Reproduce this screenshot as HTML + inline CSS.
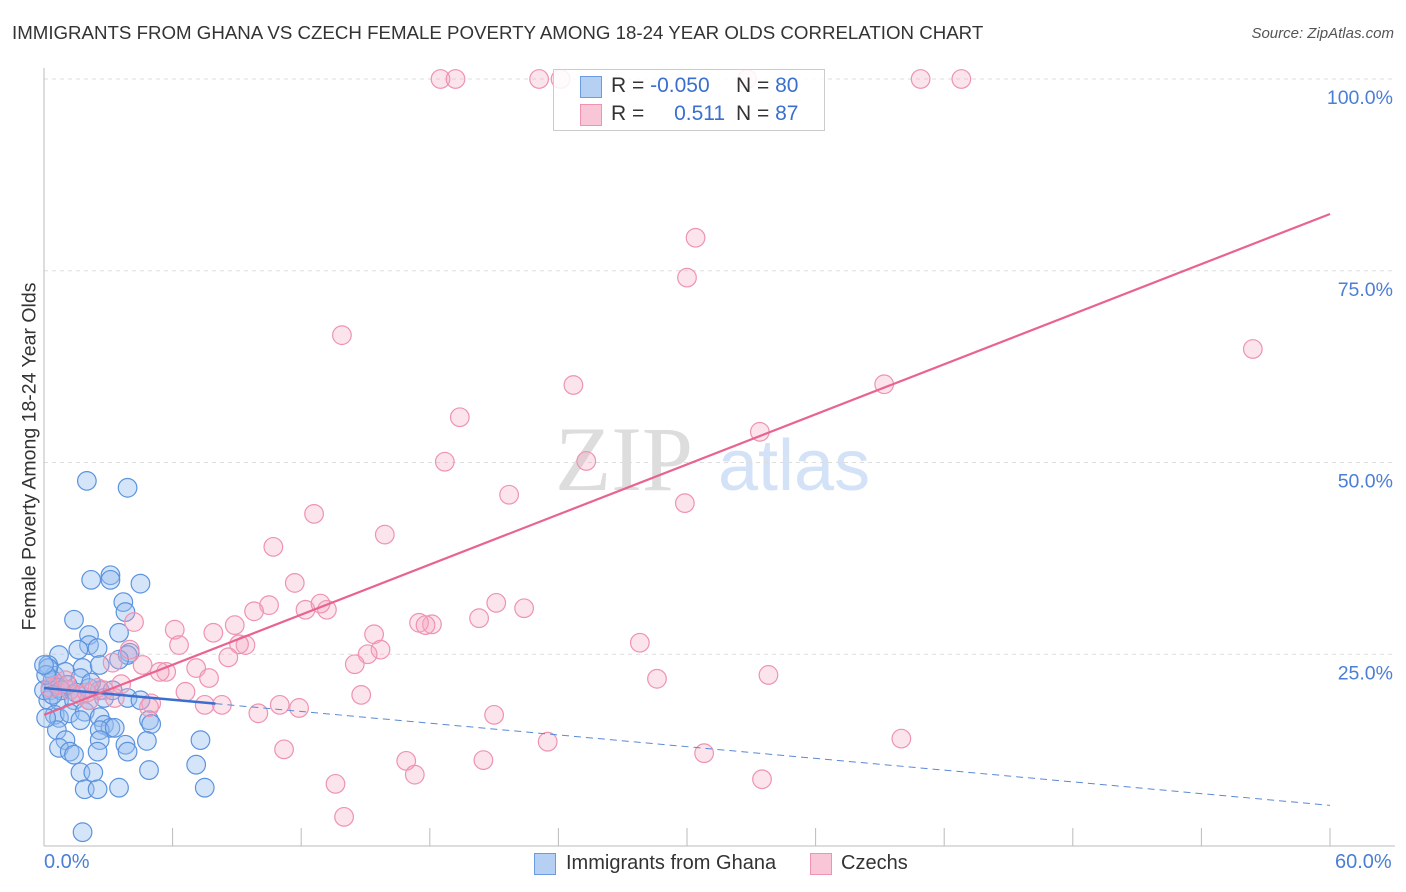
<!DOCTYPE html>
<html><head><meta charset="utf-8"><style>
body{margin:0;background:#fff;font-family:"Liberation Sans",sans-serif;}
#wrap{position:relative;width:1406px;height:892px;overflow:hidden;}
.t{position:absolute;white-space:nowrap;}
</style></head><body>
<div id="wrap">
<div class="t" style="left:12px;top:22px;font-size:18.7px;color:#333;">IMMIGRANTS FROM GHANA VS CZECH FEMALE POVERTY AMONG 18-24 YEAR OLDS CORRELATION CHART</div>
<div class="t" style="right:12px;top:25px;font-size:15px;color:#555;font-style:italic;">Source: ZipAtlas.com</div>
<svg id="svg" width="1406" height="892" style="position:absolute;left:0;top:0"></svg>
</div>
<script>
const blueX=[2.0,3.9,2.2,3.1,3.1,4.5,3.7,3.8,1.4,3.5,2.1,2.1,2.5,0.7,1.6,4.0,0.2,0.5,1.0,1.8,1.7,2.6,2.8,0.3,0.2,1.2,0.7,1.4,2.1,0.5,0.7,1.2,1.9,2.6,2.8,3.1,2.6,4.9,5.0,0.6,1.0,2.6,3.8,4.8,0.7,1.2,1.4,2.5,3.9,1.7,2.3,1.9,2.5,3.5,4.9,7.3,7.1,7.5,1.8,0.2,0.4,0.0,0.1,0.7,2.1,0.8,3.9,3.3,0.1,2.2,3.9,3.2,0.4,1.1,0.0,2.6,4.5,1.7,3.5,1.5];
const blueY=[47.6,46.7,34.7,35.3,34.7,34.2,31.8,30.5,29.5,27.8,27.5,26.2,25.8,24.9,25.6,25.2,23.6,22.2,22.7,23.2,21.9,20.3,19.3,20.3,19.0,20.3,19.0,19.0,20.6,17.1,16.7,17.3,17.5,16.8,15.8,15.4,15.1,16.4,15.9,15.1,13.8,13.8,13.2,13.7,12.8,12.3,11.9,12.3,12.3,9.6,9.6,7.4,7.4,7.6,9.9,13.8,10.6,7.6,1.8,23.2,21.6,20.3,22.3,20.6,19.0,20.3,19.3,15.4,16.7,21.3,24.9,20.3,19.7,21.0,23.6,23.6,19.0,16.4,24.3,20.0];
const pinkX=[18.5,19.2,23.1,24.1,32.8,40.9,42.8,30.4,30.0,13.9,56.4,24.7,39.2,19.4,33.4,18.7,25.3,21.7,29.9,12.6,15.9,10.7,11.7,10.5,12.2,9.8,13.2,12.9,21.1,22.4,20.3,8.9,18.1,6.1,17.5,17.8,15.4,7.9,27.8,9.4,9.1,4.2,6.3,15.7,15.1,8.6,4.0,4.6,14.5,3.2,7.1,5.7,5.4,7.7,3.6,28.6,33.8,2.5,2.8,6.6,14.8,5.0,4.9,7.5,8.3,11.0,11.9,10.0,21.0,23.5,11.2,30.8,40.0,16.9,20.5,17.3,13.6,33.5,14.0,1.2,0.7,1.7,2.1,3.3,0.3,1.0,2.0];
const pinkY=[100,100,100,100,100,100,100,79.3,74.1,66.6,64.8,60.1,60.2,55.9,54.0,50.1,50.2,45.8,44.7,43.3,40.6,39.0,34.3,31.4,30.8,30.6,30.8,31.6,31.7,31.0,29.7,28.8,28.9,28.2,29.1,28.8,27.6,27.8,26.5,26.2,26.3,29.2,26.2,25.6,25.0,24.6,25.6,23.6,23.7,23.9,23.2,22.7,22.7,21.9,21.1,21.8,22.3,20.6,20.3,20.1,19.7,18.6,18.1,18.4,18.4,18.4,18.0,17.3,17.1,13.6,12.6,12.1,14.0,11.1,11.2,9.3,8.1,8.7,3.8,20.3,21.0,19.7,19.0,19.3,20.6,21.6,20.0];
const blueTrend=[20.6,5.3];
const pinkTrend=[17.1,82.4];
const yTicks=[25,50,75,100];
const yTickLabels=["25.0%","50.0%","75.0%","100.0%"];
const xTicks=[0,6,12,18,24,30,36,42,48,54,60];

const X0=44,X1=1330,Y0=846,Y100=79;
const sx=v=>X0+(X1-X0)*v/60;
const sy=v=>Y0-(Y0-Y100)*v/100;
const svg=document.getElementById('svg');
const NS='http://www.w3.org/2000/svg';
function mk(tag,attrs){const e=document.createElementNS(NS,tag);for(const k in attrs)e.setAttribute(k,attrs[k]);svg.appendChild(e);return e;}

let wm=mk('text',{x:555,y:490,'font-size':92,'font-family':'Liberation Serif,serif',fill:'#ddd'});wm.textContent='ZIP';


let wm2=mk('text',{x:718,y:490,'font-size':72,'font-family':'Liberation Sans,sans-serif',fill:'#d3e2f6'});wm2.textContent='atlas';



yTicks.forEach((v,i)=>{
  const g=mk('line',{x1:X0,x2:1395,y1:sy(v),y2:sy(v),stroke:'#ddd','stroke-dasharray':'4,4'});
  
  
  const t=mk('text',{x:1393,y:sy(v)+25,'text-anchor':'end','font-size':19.5,fill:'#4a7fd6'});
  t.textContent=yTickLabels[i];
  
  
});
let ax=mk('line',{x1:X0,x2:X0,y1:68,y2:846,stroke:'#bbb'});


let bx=mk('line',{x1:X0,x2:1395,y1:846,y2:846,stroke:'#bbb'});


xTicks.forEach(v=>{
  const l=mk('line',{x1:sx(v),x2:sx(v),y1:828,y2:846,stroke:'#bbb'});
  
  
});
function pts(xs,ys,fill,stroke,name){
  xs.forEach((x,i)=>{
    const c=mk('circle',{cx:sx(x),cy:sy(ys[i]),r:9.3,fill:fill,stroke:stroke,'stroke-width':1.2});
    
    
  });
}
pts(blueX,blueY,'rgba(150,190,240,0.4)','#5c93de','point-ghana');
pts(pinkX,pinkY,'rgba(245,165,192,0.3)','#ee93b2','point-czechs');
const bEnd=8;
const byAt=x=>blueTrend[0]+(blueTrend[1]-blueTrend[0])*x/60;
let bl=mk('line',{x1:sx(0),y1:sy(blueTrend[0]),x2:sx(bEnd),y2:sy(byAt(bEnd)),stroke:'#3a6fd0','stroke-width':2.5});


let bd=mk('line',{x1:sx(bEnd),y1:sy(byAt(bEnd)),x2:sx(60),y2:sy(blueTrend[1]),stroke:'#5a88d6','stroke-width':1,'stroke-dasharray':'7,5'});


let pl=mk('line',{x1:sx(0),y1:sy(pinkTrend[0]),x2:sx(60),y2:sy(pinkTrend[1]),stroke:'#e8648f','stroke-width':2.2});


</script>
<div class="t" style="left:-150px;top:445px;width:360px;text-align:center;transform:rotate(-90deg);font-size:19.5px;color:#333;">Female Poverty Among 18-24 Year Olds</div>
<div class="t" style="left:44px;top:851px;font-size:20px;color:#4a7fd6;">0.0%</div>
<div class="t" style="left:1335px;top:851px;font-size:20px;color:#4a7fd6;">60.0%</div>
<div style="position:absolute;left:553px;top:69px;width:270px;height:60px;border:1px solid #ccc;background:rgba(255,255,255,0.85);font-size:21px;color:#333;">
 <div style="position:absolute;left:26px;top:6px;width:20px;height:20px;background:#b6d0f4;border:1px solid #6b9be0;"></div>
 <div class="t" style="left:57px;top:4px;">R = <span style="color:#3a6fd0">-0.050</span></div>
 <div class="t" style="left:182px;top:4px;">N = <span style="color:#3a6fd0">80</span></div>
 <div style="position:absolute;left:26px;top:34px;width:20px;height:20px;background:#f8c6d6;border:1px solid #ee93b2;"></div>
 <div class="t" style="left:57px;top:32px;">R = <span style="color:#3a6fd0;margin-left:24px">0.511</span></div>
 <div class="t" style="left:182px;top:32px;">N = <span style="color:#3a6fd0">87</span></div>
</div>
<div style="position:absolute;left:534px;top:853px;height:22px;">
 <div style="position:absolute;left:0;top:0;width:20px;height:20px;background:#b6d0f4;border:1px solid #6b9be0;"></div>
 <div class="t" style="left:32px;top:-1px;font-size:20px;color:#333;">Immigrants from Ghana</div>
</div>
<div style="position:absolute;left:810px;top:853px;height:22px;">
 <div style="position:absolute;left:0;top:0;width:20px;height:20px;background:#f8c6d6;border:1px solid #ee93b2;"></div>
 <div class="t" style="left:31px;top:-1px;font-size:20px;color:#333;">Czechs</div>
</div>
</body></html>
